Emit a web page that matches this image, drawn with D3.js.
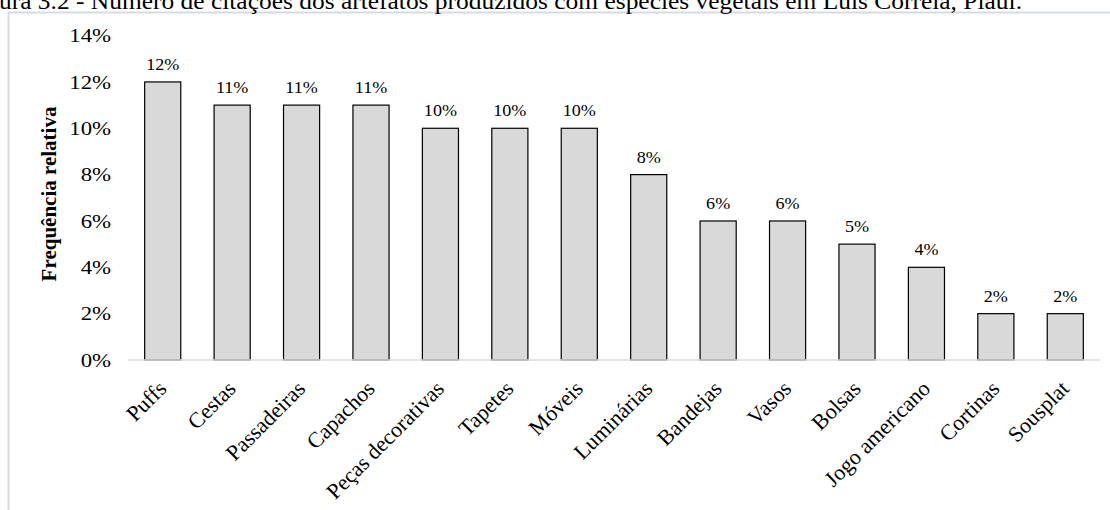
<!DOCTYPE html>
<html>
<head>
<meta charset="utf-8">
<script src="https://cdn.jsdelivr.net/npm/d3@7"></script>
<style>
  html, body { margin: 0; padding: 0; background: #ffffff; }
  svg { display: block; }
  text { font-family: "Liberation Serif", "Times New Roman", serif; fill: #000; }
</style>
</head>
<body>
<svg id="chart" width="1110" height="510"></svg>
<script>
const caption = "ura 3.2 - Número de citações dos artefatos produzidos com espécies vegetais em Luís Correia, Piauí.";
const categories = ["Puffs", "Cestas", "Passadeiras", "Capachos", "Peças decorativas", "Tapetes", "Móveis",
  "Luminárias", "Bandejas", "Vasos", "Bolsas", "Jogo americano", "Cortinas", "Sousplat"];
const values = [12, 11, 11, 11, 10, 10, 10, 8, 6, 6, 5, 4, 2, 2];
const yTicks = [0, 2, 4, 6, 8, 10, 12, 14];
const yTitle = "Frequência relativa";

const svg = d3.select("#chart");

// frame
svg.append("path")
  .attr("d", "M8.5,510 L8.5,12.5 L1110,12.5")
  .attr("fill", "none").attr("stroke", "#d6dbe3").attr("stroke-width", 2);

// caption (cut at top)
svg.append("text").attr("x", -1).attr("y", 8.5)
  .attr("font-size", 23)
  .attr("textLength", 1023).attr("lengthAdjust", "spacingAndGlyphs")
  .text(caption);

const x = d3.scaleBand().domain(categories).range([128, 1100]).paddingInner(0.48).paddingOuter(0.24);
const y = d3.scaleLinear().domain([0, 14]).range([360, 35.6]);

// y tick labels
const yAxis = d3.axisLeft(y).tickValues(yTicks).tickFormat(d => d + "%").tickSize(0).tickPadding(0);
const ga = svg.append("g").attr("transform", "translate(111,0)").call(yAxis);
ga.select(".domain").remove();
ga.selectAll("text").attr("font-size", 19).attr("font-family", "Liberation Serif, serif").attr("fill", "#000")
  .attr("transform", "scale(1.2,1)");

// y title
svg.append("text")
  .attr("transform", `translate(56,194) rotate(-90)`)
  .attr("text-anchor", "middle").attr("font-weight", "bold").attr("font-size", 21)
  .text(yTitle);

// bars
svg.append("g").selectAll("rect").data(values).join("rect")
  .attr("x", (d, i) => x(categories[i]))
  .attr("y", d => y(d))
  .attr("width", x.bandwidth())
  .attr("height", d => y(0) - y(d))
  .attr("fill", "#d9d9d9").attr("stroke", "#000").attr("stroke-width", 1.2);

// baseline
svg.append("line").attr("x1", 128).attr("x2", 1100).attr("y1", y(0)).attr("y2", y(0))
  .attr("stroke", "#d9dde3").attr("stroke-width", 1.5);

// data labels
svg.append("g").selectAll("text").data(values).join("text")
  .attr("transform", (d, i) => `translate(${x(categories[i]) + x.bandwidth() / 2},${y(d) - 12}) scale(1.13,1)`)
  .attr("text-anchor", "middle").attr("font-size", 16)
  .text(d => d + "%");

// category labels
const xAxis = d3.axisBottom(x).tickSize(0).tickPadding(0);
const gx = svg.append("g").attr("transform", `translate(0,${y(0)})`).call(xAxis);
gx.select(".domain").remove();
gx.selectAll("text")
  .attr("font-size", 22).attr("font-family", "Liberation Serif, serif").attr("fill", "#000")
  .attr("text-anchor", "end").attr("dy", 0)
  .attr("transform", "translate(5,30) rotate(-45)");
</script>
</body>
</html>
